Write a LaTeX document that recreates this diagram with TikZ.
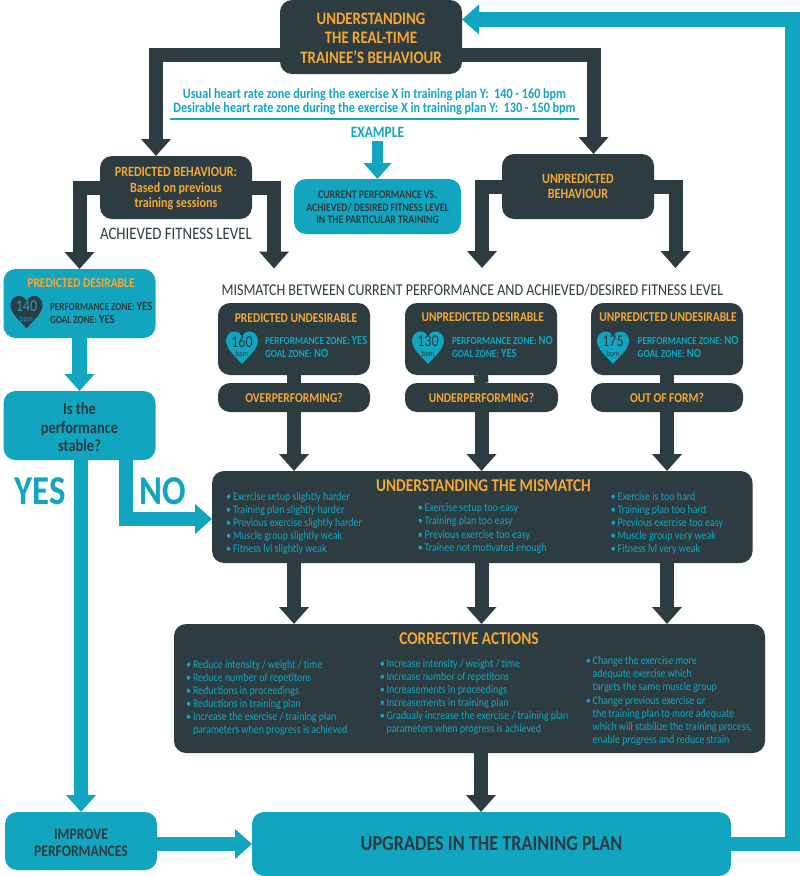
\documentclass[tikz,border=0pt]{standalone}
\usepackage{fontspec}
\setmainfont[FakeStretch=0.85]{Carlito}
\usepackage{xcolor}
\definecolor{ColDark}{RGB}{45,60,64}
\definecolor{ColTeal}{RGB}{18,165,191}
\definecolor{ColOrange}{RGB}{245,167,51}
\usetikzlibrary{arrows.meta}
\tikzstyle{BoxDark}=[rectangle,rounded corners=12pt,fill=ColDark,inner sep=0pt,outer sep=0pt,
align=center,text=ColOrange]
\tikzstyle{BoxTeal}=[rectangle,rounded corners=12pt,fill=ColTeal,inner sep=0pt,outer sep=0pt,
align=center,text=ColDark]
\tikzstyle{EdgeDark}=[draw=ColDark,line width=14pt,-{Triangle[width=29pt,length=17pt]}]
\tikzstyle{EdgeTeal}=[draw=ColTeal,line width=14.5pt,-{Triangle[width=29pt,length=17pt]}]
\tikzstyle{NodeText}=[inner sep=0pt,align=center]
\tikzstyle{NodeHead}=[font=\bfseries\fontsize{14.2}{15.5}\selectfont]
\tikzstyle{NodeSub}=[font=\bfseries\fontsize{13.5}{15}\selectfont]
\tikzstyle{NodeList}=[inner sep=0pt,outer sep=0pt,anchor=west,align=left,text=ColTeal,
font=\fontsize{11.7}{13.1}\selectfont]
\tikzstyle{NodeZone}=[inner sep=0pt,outer sep=0pt,anchor=west,align=left,
font=\bfseries\fontsize{10.8}{13}\selectfont]
\tikzstyle{NodeNum}=[inner sep=0pt,font=\fontsize{16.5}{16.5}\selectfont]
\tikzstyle{NodeBpm}=[inner sep=0pt,font=\fontsize{8}{8}\selectfont]
\newcommand{\Bul}{\llap{\textbullet\kern2pt}}
\newcommand{\ZoneVal}[1]{{\fontsize{12.5}{13}\selectfont #1}}
\newcommand{\HeartAt}[3]{\fill[#3,shift={(#1,#2)}](0,16.5)
  .. controls (-6,9) and (-16,2) .. (-16,-7)
  .. controls (-16,-13) and (-11,-16) .. (-8,-16)
  .. controls (-4,-16) and (-1,-14) .. (0,-11)
  .. controls (1,-14) and (4,-16) .. (8,-16)
  .. controls (11,-16) and (16,-13) .. (16,-7)
  .. controls (16,2) and (6,9) .. (0,16.5) -- cycle;}
\begin{document}
\begin{tikzpicture}[x=1pt,y=-1pt]
        \useasboundingbox (0,0) rectangle (800,876);
        \node[BoxDark,minimum width=182pt,minimum height=74pt](Top)at(371,37){};
        \node[NodeText,text=ColOrange,font=\bfseries\fontsize{17.5}{19.5}\selectfont](TopT)at(371,38){UNDERSTANDING\\THE REAL-TIME\\TRAINEE'S BEHAVIOUR};
        \node[BoxDark,minimum width=152pt,minimum height=63pt](PredBeh)at(176,187.5){};
        \node[NodeText,NodeHead,text=ColOrange](PredBehT)at(176,189){PREDICTED BEHAVIOUR:\\Based on previous\\training sessions};
        \node[BoxDark,NodeHead,minimum width=152pt,minimum height=65pt](UnpredBeh)at(578,186.5){UNPREDICTED\\BEHAVIOUR};
        \node[BoxTeal,minimum width=167pt,minimum height=55pt](Current)at(377.5,206.5){};
        \node[NodeText,text=ColDark,font=\bfseries\fontsize{11.5}{12.6}\selectfont](CurrentT)at(377.5,207.5){CURRENT PERFORMANCE VS.\\ACHIEVED/ DESIRED FITNESS LEVEL\\IN THE PARTICULAR TRAINING};
        \node[NodeText,text=ColDark,font=\fontsize{17.5}{17}\selectfont](Achieved)at(176,234){ACHIEVED FITNESS LEVEL};
        \node[NodeText,text=ColDark,font=\fontsize{16.5}{17}\selectfont](MismatchHead)at(472.5,290){MISMATCH BETWEEN CURRENT PERFORMANCE AND ACHIEVED/DESIRED FITNESS LEVEL};
        \node[NodeText,text=ColTeal,font=\bfseries\fontsize{14.3}{14.3}\selectfont](Usual)at(374.5,102){Usual heart rate zone during the exercise X in training plan Y:\ \ 140 - 160 bpm\\Desirable heart rate zone during the exercise X in training plan Y:\ \ 130 - 150 bpm};
        \coordinate(RuleL)at(170,119);
        \coordinate(RuleR)at(579,119);
        \draw[ColTeal,line width=1.7pt](RuleL)--(RuleR);
        \node[NodeText,text=ColTeal,font=\bfseries\fontsize{15.8}{15}\selectfont](Example)at(377.5,132){EXAMPLE};
        % left column
        \node[BoxTeal,minimum width=152pt,minimum height=69pt](PredDes)at(79.5,303.5){};
        \node[NodeText,NodeSub,text=ColOrange](PredDesT)at(81,283){PREDICTED DESIRABLE};
        \node[BoxTeal,minimum width=152pt,minimum height=69pt](Stable)at(79.5,425.5){};
        \node[NodeText,text=ColDark,font=\bfseries\fontsize{17}{18.5}\selectfont](StableT)at(79.5,427.5){Is the\\performance\\stable?};
        \node[BoxTeal,minimum width=152pt,minimum height=58pt](Improve)at(81,841){};
        \node[NodeText,text=ColDark,font=\bfseries\fontsize{16}{17}\selectfont](ImproveT)at(81,843){IMPROVE\\PERFORMANCES};
        \node[NodeText,text=ColTeal,font=\bfseries\fontsize{41}{41}\selectfont](Yes)at(40,491){YES};
        \node[NodeText,text=ColTeal,font=\bfseries\fontsize{41}{41}\selectfont](No)at(162.5,491){NO};
        % three cases
        \node[BoxDark,minimum width=152pt,minimum height=72pt](PredUnd)at(294,339){};
        \node[BoxDark,minimum width=152pt,minimum height=72pt](UnpDes)at(481,339){};
        \node[BoxDark,minimum width=152pt,minimum height=72pt](UnpUnd)at(667,339){};
        \node[NodeText,NodeSub,text=ColOrange](PredUndT)at(296,318){PREDICTED UNDESIRABLE};
        \node[NodeText,NodeSub,text=ColOrange](UnpDesT)at(482.7,317.5){UNPREDICTED DESIRABLE};
        \node[NodeText,NodeSub,text=ColOrange](UnpUndT)at(668,317.5){UNPREDICTED UNDESIRABLE};
        \node[BoxDark,NodeSub,minimum width=152pt,minimum height=29pt](Over)at(294,397.5){OVERPERFORMING?};
        \node[BoxDark,NodeSub,minimum width=153pt,minimum height=29pt](Under)at(481.5,397.5){UNDERPERFORMING?};
        \node[BoxDark,NodeSub,minimum width=152pt,minimum height=29pt](OutForm)at(667,397.5){OUT OF FORM?};
        % hearts
        \HeartAt{26.5}{312}{ColDark}
        \HeartAt{242}{347.5}{ColTeal}
        \HeartAt{428}{347.5}{ColTeal}
        \HeartAt{613}{347.5}{ColTeal}
        \node[NodeNum,text=ColTeal](Num140)at(26.5,306.5){140};
        \node[NodeBpm,text=ColTeal](Bpm140)at(26.5,319){bpm};
        \node[NodeNum,text=ColDark](Num160)at(242,341.5){160};
        \node[NodeBpm,text=ColDark](Bpm160)at(242,354){bpm};
        \node[NodeNum,text=ColDark](Num130)at(428,341.5){130};
        \node[NodeBpm,text=ColDark](Bpm130)at(428,354){bpm};
        \node[NodeNum,text=ColDark](Num175)at(613,341.5){175};
        \node[NodeBpm,text=ColDark](Bpm175)at(613,354){bpm};
        \node[NodeZone,text=ColDark](Zone140)at(50,312.5){PERFORMANCE ZONE: \ZoneVal{YES}\\GOAL ZONE: \ZoneVal{YES}};
        \node[NodeZone,text=ColTeal](Zone160)at(265,346.5){PERFORMANCE ZONE: \ZoneVal{YES}\\GOAL ZONE: \ZoneVal{NO}};
        \node[NodeZone,text=ColTeal](Zone130)at(452,346.5){PERFORMANCE ZONE: \ZoneVal{NO}\\GOAL ZONE: \ZoneVal{YES}};
        \node[NodeZone,text=ColTeal](Zone175)at(637.7,346.5){PERFORMANCE ZONE: \ZoneVal{NO}\\GOAL ZONE: \ZoneVal{NO}};
        % mismatch
        \node[BoxDark,minimum width=540.5pt,minimum height=92pt](Mismatch)at(482.3,517){};
        \node[NodeText,text=ColOrange,font=\bfseries\fontsize{18}{18}\selectfont](MismatchT)at(483.5,486){UNDERSTANDING THE MISMATCH};
        \node[NodeList](MisA)at(233,523.5){\Bul Exercise setup slightly harder\\\Bul Training plan slightly harder\\\Bul Previous exercise slightly harder\\\Bul Muscle group slightly weak\\\Bul Fitness lvl slightly weak};
        \node[NodeList](MisB)at(424.7,528.5){\Bul Exercise setup too easy\\\Bul Training plan too easy\\\Bul Previous exercise too easy\\\Bul Trainee not motivated enough};
        \node[NodeList](MisC)at(617.7,523.5){\Bul Exercise is too hard\\\Bul Training plan too hard\\\Bul Previous exercise too easy\\\Bul Muscle group very weak\\\Bul Fitness lvl very weak};
        % corrective
        \node[BoxDark,minimum width=591pt,minimum height=129pt](Corrective)at(469.5,688.5){};
        \node[NodeText,text=ColOrange,font=\bfseries\fontsize{18}{18}\selectfont](CorrectiveT)at(469,639){CORRECTIVE ACTIONS};
        \node[NodeList](CorA)at(193,698){\Bul Reduce intensity / weight / time\\\Bul Reduce number of repetitons\\\Bul Reductions in proceedings\\\Bul Reductions in training plan\\\Bul Increase the exercise / training plan\\parameters when progress is achieved};
        \node[NodeList](CorB)at(386.7,697){\Bul Increase intensity / weight / time\\\Bul Increase number of repetitons\\\Bul Increasements in proceedings\\\Bul Increasements in training plan\\\Bul Gradualy increase the exercise / training plan\\parameters when progress is achieved};
        \node[NodeList](CorC)at(592.7,701){\Bul Change the exercise more\\adequate exercise which\\targets the same muscle group\\\Bul Change previous exercise or\\the training plan to more adequate\\which will stabilize the training process,\\enable progress and reduce strain};
        \node[BoxTeal,minimum width=479pt,minimum height=64pt,
          font=\bfseries\fontsize{21.4}{22}\selectfont](Upgrades)at(491.5,844){UPGRADES IN THE TRAINING PLAN};
        % free ends
        \coordinate(FreePredR)at(274,268.5);
        \coordinate(FreeUnpL)at(482,268);
        \coordinate(FreeUnpR)at(675.5,268);
        \coordinate(FeedCorner)at(792.5,19.5);
        % connectors
        \draw[EdgeDark]([yshift=-18pt]Top.west)-|([xshift=-20pt]PredBeh.north);
        \draw[EdgeDark]([yshift=-18pt]Top.east)-|([xshift=15.5pt]UnpredBeh.north);
        \draw[EdgeDark](PredBeh.west)-|(PredDes.north);
        \draw[EdgeDark](PredBeh.east)-|(FreePredR);
        \draw[EdgeDark](UnpredBeh.west)-|(FreeUnpL);
        \draw[EdgeDark](UnpredBeh.east)-|(FreeUnpR);
        \draw[draw=ColTeal,line width=11pt,-{Triangle[width=27pt,length=16pt]}]([yshift=-4pt]Example.south)--(Current.north);
        \draw[EdgeTeal](PredDes.south)--(Stable.north);
        \draw[EdgeTeal]([xshift=1.5pt]Stable.south)--(Improve.north);
        \draw[EdgeTeal]([xshift=46.5pt]Stable.south)|-([yshift=-2pt]Mismatch.west);
        \draw[EdgeTeal]([yshift=-3pt]Improve.east)--(Upgrades.west);
        \draw[EdgeTeal](Upgrades.east)-|(FeedCorner)--([yshift=17.5pt]Top.east);
        \draw[draw=ColDark,line width=14pt](PredUnd.south)--(Over.north);
        \draw[draw=ColDark,line width=14pt](UnpDes.south)--(Under.north);
        \draw[draw=ColDark,line width=14pt](UnpUnd.south)--(OutForm.north);
        \draw[EdgeDark](Over.south)--(Over.south|-Mismatch.north);
        \draw[EdgeDark](Under.south)--(Under.south|-Mismatch.north);
        \draw[EdgeDark](OutForm.south)--(OutForm.south|-Mismatch.north);
        \draw[EdgeDark](Over.south|-Mismatch.south)--(Over.south|-Corrective.north);
        \draw[EdgeDark](Under.south|-Mismatch.south)--(Under.south|-Corrective.north);
        \draw[EdgeDark](OutForm.south|-Mismatch.south)--(OutForm.south|-Corrective.north);
        \draw[EdgeDark]([xshift=11.5pt]Corrective.south)--([xshift=-10.5pt]Upgrades.north);
    \end{tikzpicture}
\end{document}
